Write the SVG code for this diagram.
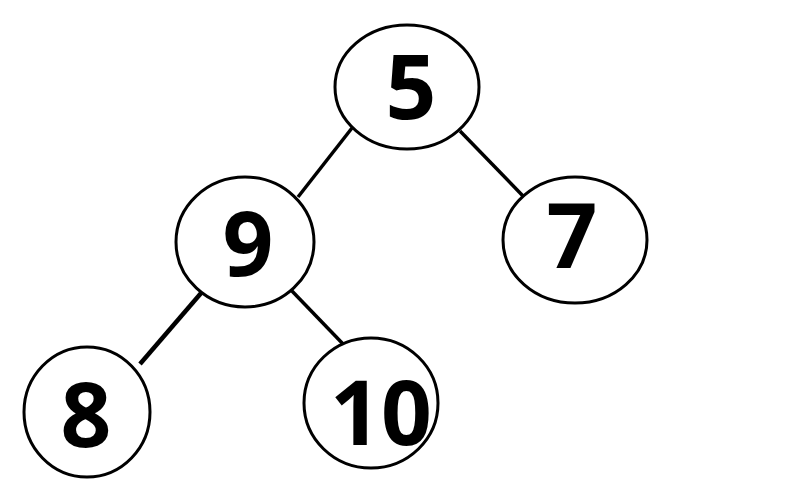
<svg xmlns="http://www.w3.org/2000/svg" width="805" height="484" viewBox="0 0 805 484">
<style>
.n ellipse{fill:#fff;stroke:#000;stroke-width:3}
.n text{font-family:"Open Sans","Noto Sans","Liberation Sans",sans-serif;font-weight:bold;font-size:89px;text-anchor:middle;fill:#000}
#edges line{stroke:#000;stroke-width:3.5}
</style>
<rect width="805" height="484" fill="#fff"/>
<g id="edges">
<line x1="352" y1="128" x2="298" y2="197"/>
<line x1="460" y1="131" x2="523" y2="196"/>
<line x1="202" y1="292" x2="140" y2="364" style="stroke-width:4.5"/>
<line x1="291" y1="290" x2="344" y2="345"/>
</g>
<g id="n5" class="n"><ellipse cx="407" cy="87" rx="72" ry="62"/><text x="411" y="119">5</text></g>
<g id="n9" class="n"><ellipse cx="245" cy="242" rx="69" ry="65"/><text x="248" y="276">9</text></g>
<g id="n7" class="n"><ellipse cx="575" cy="240" rx="72" ry="63"/><text x="572" y="268">7</text></g>
<g id="n8" class="n"><ellipse cx="87" cy="412" rx="63" ry="65"/><text x="86" y="447">8</text></g>
<g id="n10" class="n"><ellipse cx="371" cy="403" rx="67" ry="65"/><text x="381" y="445">10</text></g>
</svg>
